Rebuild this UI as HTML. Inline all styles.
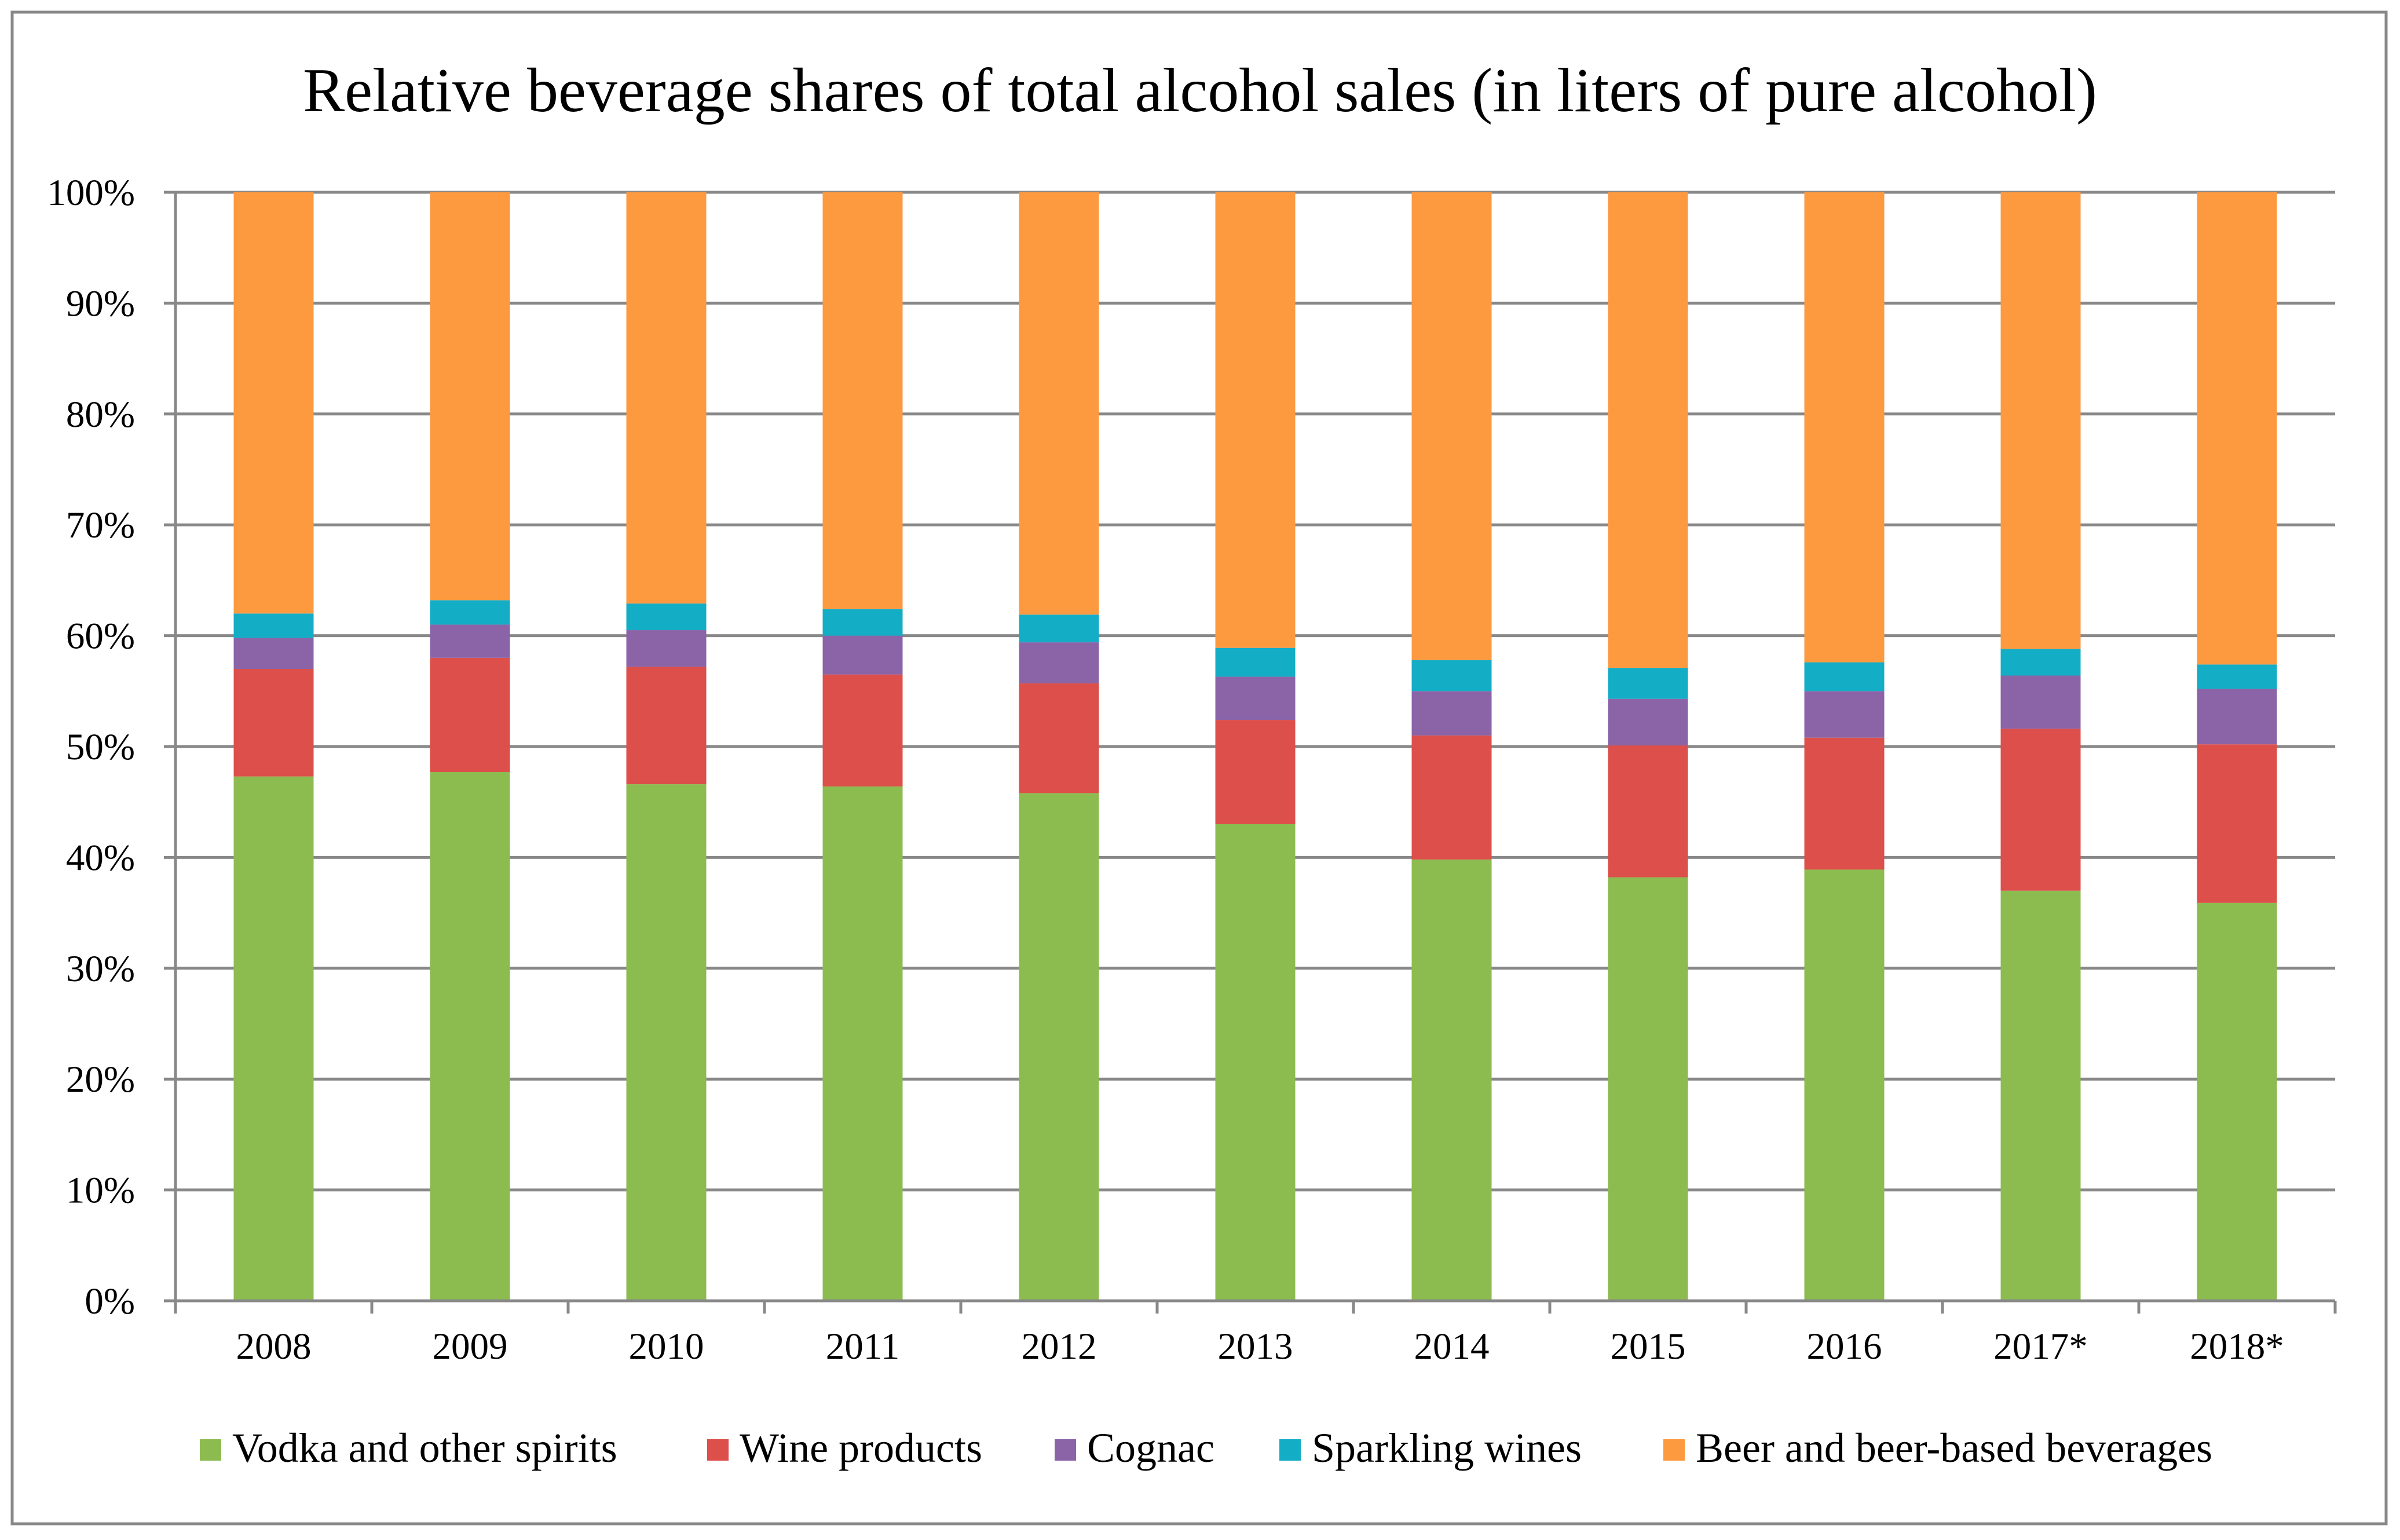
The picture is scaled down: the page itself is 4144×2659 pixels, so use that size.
<!DOCTYPE html>
<html><head><meta charset="utf-8"><style>
html,body{margin:0;padding:0;background:#fff;}
svg{display:block;font-family:"Liberation Serif",serif;}
</style></head><body>
<svg id="chart" width="4144" height="2659" viewBox="0 0 4144 2659" xmlns="http://www.w3.org/2000/svg">
<rect x="21" y="21" width="4099" height="2610" fill="#fff" stroke="#888" stroke-width="5"/>
<text x="2072" y="192" text-anchor="middle" font-size="108" fill="#000">Relative beverage shares of total alcohol sales (in liters of pure alcohol)</text>
<g id="grid"></g><g id="bars"></g><g id="axes"></g><g id="legend"></g>
</svg>
<script>
const categories=["2008","2009","2010","2011","2012","2013","2014","2015","2016","2017*","2018*"];
const vodka=[47.3,47.7,46.6,46.4,45.8,43.0,39.8,38.2,38.9,37.0,35.9];
const wine=[9.7,10.3,10.6,10.1,9.9,9.4,11.2,11.9,11.9,14.6,14.3];
const cognac=[2.8,3.0,3.3,3.5,3.7,3.9,4.0,4.2,4.2,4.8,5.0];
const sparkling=[2.2,2.2,2.4,2.4,2.5,2.6,2.8,2.8,2.6,2.4,2.2];
const beer=[38.0,36.8,37.1,37.6,38.1,41.1,42.2,42.9,42.4,41.2,42.6];
const yTicks=[0,10,20,30,40,50,60,70,80,90,100];
const seriesNames=["Vodka and other spirits","Wine products","Cognac","Sparkling wines","Beer and beer-based beverages"];
const seriesData=[vodka,wine,cognac,sparkling,beer];
const colors=["#8CBB4F","#DC4F4A","#8B64A8","#14ADC6","#FD9A40"];
const NS="http://www.w3.org/2000/svg";
const L=303,R=4032,T=332,B=2246;
const bw=(R-L)/categories.length, barW=138;
function y(v){return B-(v/100)*(B-T);}
function xc(i){return L+bw*(i+0.5);}
function mk(tag,attrs,parent){const e=document.createElementNS(NS,tag);for(const k in attrs)e.setAttribute(k,attrs[k]);parent.appendChild(e);return e;}
const grid=document.getElementById('grid'),bars=document.getElementById('bars'),axes=document.getElementById('axes'),legend=document.getElementById('legend');
yTicks.forEach(t=>{
 const ln=mk('line',{x1:L,x2:R,y1:y(t),y2:y(t),stroke:'#888','stroke-width':5},grid);
 
 
 const tx=mk('text',{x:L-70,y:y(t)+22,'text-anchor':'end','font-size':65},axes);
 tx.textContent=t+'%';
 
 
});
const ya=mk('line',{x1:L,x2:L,y1:T,y2:B,stroke:'#888','stroke-width':5},axes);


yTicks.forEach(t=>{const tk=mk('line',{x1:L-20,x2:L,y1:y(t),y2:y(t),stroke:'#888','stroke-width':5},axes);
 
 });
categories.forEach((c,i)=>{
 let cum=0;
 seriesData.forEach((s,j)=>{
  const v=s[i];
  const r=mk('rect',{x:xc(i)-barW/2,y:y(cum+v),width:barW,height:y(cum)-y(cum+v),fill:colors[j]},bars);
  
  
  cum+=v;
 });
 const tx=mk('text',{x:xc(i),y:B+100,'text-anchor':'middle','font-size':65},axes);
 tx.textContent=c;
 
 
});
for(let i=0;i<=categories.length;i++){
 const tk=mk('line',{x1:L+bw*i,x2:L+bw*i,y1:B,y2:B+22,stroke:'#888','stroke-width':5},axes);
 
 
}
const xa=mk('line',{x1:L,x2:R,y1:B,y2:B,stroke:'#888','stroke-width':5},axes);


const lx=[345,1221,1821,2209,2872];
seriesNames.forEach((n,j)=>{
 const g=mk('g',{},legend);
 
 
 mk('rect',{x:lx[j],y:2485,width:37,height:37,fill:colors[j]},g);
 const t=mk('text',{x:lx[j]+56,y:2524,'font-size':72},g);
 t.textContent=n;
});
</script>
</body></html>
